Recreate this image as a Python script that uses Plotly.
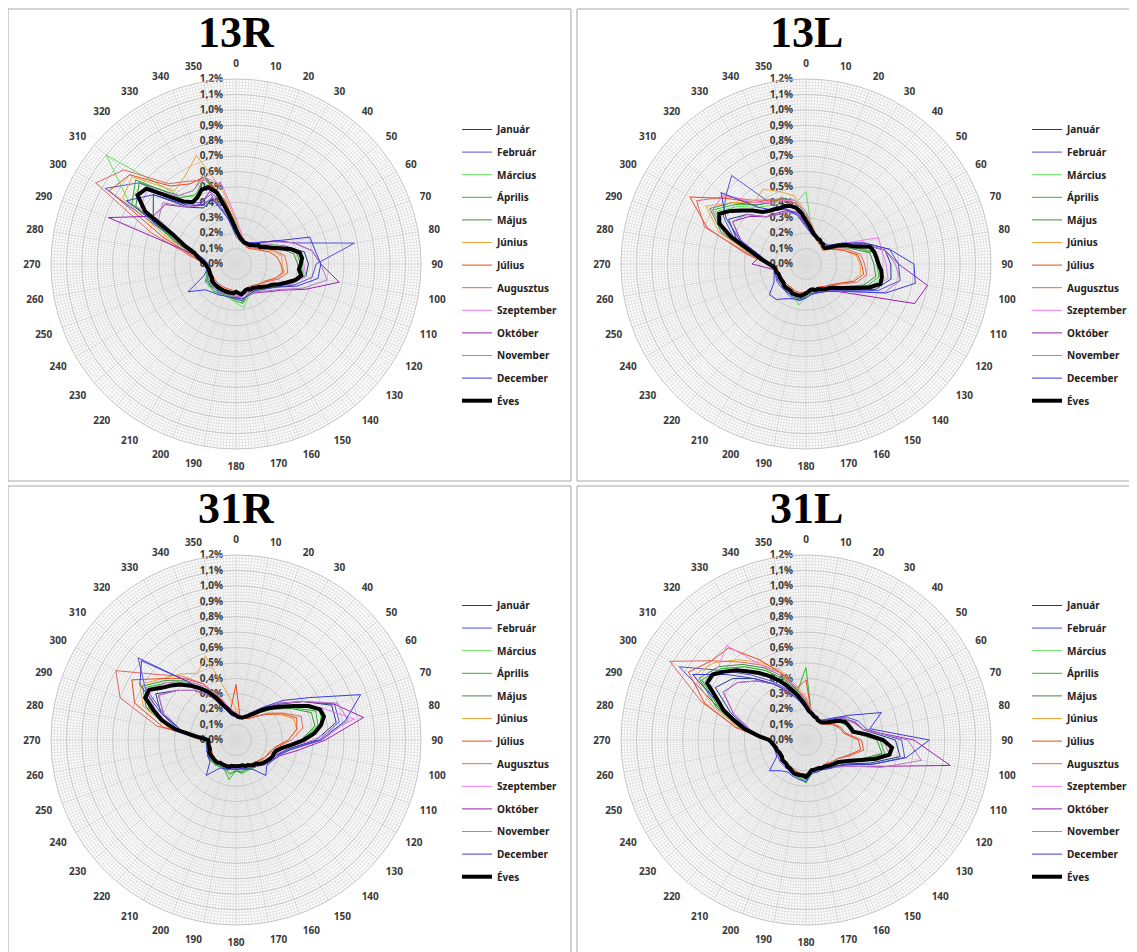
import plotly.graph_objects as go

W, H = 1137, 952

PANELS = ["13R", "13L", "31R", "31L"]
MONTHS = ["Január", "Február", "Március", "Április", "Május", "Június",
          "Július", "Augusztus", "Szeptember", "Október", "November", "December"]
ANNUAL = "Éves"
THETA_10 = list(range(0, 360, 10))
THETA_5 = list(range(0, 360, 5))
ANGLE_TICKS = list(range(0, 360, 10))
ANGLE_LABELS = [str(a) for a in ANGLE_TICKS]
RADIAL_TICKS = [0.0, 0.1, 0.2, 0.3, 0.4, 0.5, 0.6, 0.7, 0.8, 0.9, 1.0, 1.1, 1.2]
RADIAL_LABELS = ["0,0%", "0,1%", "0,2%", "0,3%", "0,4%", "0,5%", "0,6%",
                 "0,7%", "0,8%", "0,9%", "1,0%", "1,1%", "1,2%"]

# ---------------- 13R ----------------
r13R_eves = [0.22, 0.19, 0.17, 0.16, 0.15, 0.15, 0.15, 0.15, 0.16, 0.17, 0.19, 0.19,
             0.22, 0.25, 0.30, 0.37, 0.42, 0.43, 0.42, 0.41, 0.43, 0.40, 0.35, 0.31,
             0.27, 0.25, 0.23, 0.21, 0.20, 0.19, 0.19, 0.18, 0.18, 0.19, 0.20, 0.19,
             0.18, 0.19, 0.19, 0.19, 0.19, 0.19, 0.19, 0.19, 0.19, 0.19, 0.19, 0.19,
             0.18, 0.18, 0.18, 0.18, 0.18, 0.19, 0.20, 0.22, 0.25, 0.28, 0.36, 0.45,
             0.68, 0.78, 0.76, 0.62, 0.53, 0.49, 0.50, 0.53, 0.53, 0.48, 0.36, 0.28]
r13R_jan = [0.20, 0.16, 0.14, 0.15, 0.17, 0.20, 0.25, 0.34, 0.45, 0.47, 0.46, 0.38, 0.28, 0.24, 0.21, 0.20, 0.20, 0.21,
            0.22, 0.21, 0.20, 0.21, 0.20, 0.21, 0.22, 0.19, 0.18, 0.19, 0.24, 0.35, 0.62, 0.70, 0.48, 0.42, 0.45, 0.33]
r13R_feb = [0.18, 0.15, 0.14, 0.15, 0.18, 0.22, 0.30, 0.40, 0.78, 0.52, 0.50, 0.40, 0.30, 0.25, 0.22, 0.21, 0.22, 0.24,
            0.23, 0.22, 0.21, 0.22, 0.21, 0.22, 0.23, 0.20, 0.19, 0.18, 0.22, 0.38, 0.98, 0.82, 0.52, 0.46, 0.48, 0.30]
r13R_mar = [0.22, 0.18, 0.14, 0.15, 0.16, 0.20, 0.26, 0.33, 0.42, 0.43, 0.45, 0.37, 0.28, 0.25, 0.23, 0.22, 0.23, 0.29,
            0.25, 0.23, 0.22, 0.23, 0.22, 0.23, 0.22, 0.20, 0.19, 0.20, 0.24, 0.38, 0.80, 1.10, 0.58, 0.50, 0.55, 0.38]
r13R_apr = [0.24, 0.17, 0.15, 0.16, 0.17, 0.20, 0.25, 0.32, 0.40, 0.42, 0.44, 0.38, 0.29, 0.25, 0.22, 0.21, 0.22, 0.26,
            0.24, 0.22, 0.21, 0.22, 0.23, 0.22, 0.21, 0.20, 0.19, 0.20, 0.26, 0.40, 0.78, 0.85, 0.56, 0.52, 0.60, 0.40]
r13R_maj = [0.26, 0.18, 0.15, 0.15, 0.16, 0.19, 0.23, 0.30, 0.38, 0.40, 0.42, 0.36, 0.28, 0.24, 0.21, 0.20, 0.21, 0.25,
            0.22, 0.21, 0.20, 0.21, 0.20, 0.21, 0.20, 0.19, 0.18, 0.19, 0.25, 0.42, 0.75, 0.82, 0.58, 0.55, 0.62, 0.42]
r13R_jun = [0.28, 0.20, 0.16, 0.14, 0.14, 0.16, 0.20, 0.25, 0.30, 0.30, 0.32, 0.28, 0.23, 0.21, 0.19, 0.18, 0.19, 0.21,
            0.19, 0.18, 0.18, 0.18, 0.18, 0.18, 0.17, 0.17, 0.17, 0.19, 0.27, 0.45, 0.85, 0.88, 0.62, 0.66, 0.75, 0.48]
r13R_jul = [0.24, 0.18, 0.15, 0.13, 0.13, 0.15, 0.18, 0.23, 0.27, 0.29, 0.31, 0.27, 0.22, 0.20, 0.18, 0.17, 0.18, 0.20,
            0.18, 0.17, 0.17, 0.17, 0.17, 0.17, 0.17, 0.17, 0.17, 0.19, 0.28, 0.50, 0.95, 0.90, 0.66, 0.60, 0.60, 0.42]
r13R_aug = [0.22, 0.17, 0.14, 0.13, 0.14, 0.16, 0.20, 0.26, 0.32, 0.33, 0.34, 0.29, 0.23, 0.20, 0.18, 0.17, 0.18, 0.20,
            0.18, 0.18, 0.18, 0.18, 0.18, 0.18, 0.17, 0.17, 0.17, 0.20, 0.30, 0.58, 1.05, 0.95, 0.68, 0.62, 0.58, 0.40]
r13R_szep = [0.30, 0.20, 0.16, 0.15, 0.16, 0.19, 0.25, 0.33, 0.42, 0.44, 0.46, 0.38, 0.28, 0.23, 0.21, 0.20, 0.20, 0.22,
             0.20, 0.19, 0.19, 0.19, 0.19, 0.19, 0.18, 0.18, 0.18, 0.19, 0.24, 0.38, 0.72, 0.75, 0.58, 0.55, 0.60, 0.52]
r13R_okt = [0.24, 0.18, 0.16, 0.16, 0.18, 0.22, 0.30, 0.40, 0.50, 0.55, 0.68, 0.48, 0.34, 0.28, 0.24, 0.22, 0.22, 0.23,
            0.21, 0.20, 0.20, 0.20, 0.20, 0.20, 0.19, 0.18, 0.18, 0.19, 0.22, 0.88, 0.62, 0.60, 0.48, 0.45, 0.50, 0.38]
r13R_nov = [0.22, 0.17, 0.15, 0.16, 0.18, 0.22, 0.29, 0.40, 0.50, 0.55, 0.60, 0.46, 0.33, 0.27, 0.23, 0.22, 0.22, 0.23,
            0.21, 0.21, 0.20, 0.21, 0.21, 0.21, 0.20, 0.19, 0.18, 0.19, 0.22, 0.33, 0.58, 0.62, 0.48, 0.44, 0.46, 0.32]
r13R_dec = [0.20, 0.16, 0.15, 0.16, 0.18, 0.22, 0.30, 0.51, 0.52, 0.55, 0.54, 0.42, 0.30, 0.25, 0.22, 0.21, 0.22, 0.23,
            0.22, 0.22, 0.22, 0.23, 0.24, 0.26, 0.36, 0.22, 0.19, 0.18, 0.22, 0.36, 0.82, 0.70, 0.50, 0.44, 0.45, 0.30]

# ---------------- 13L ----------------
r13L_eves = [0.28, 0.25, 0.22, 0.20, 0.19, 0.18, 0.18, 0.17, 0.17, 0.16, 0.16, 0.19,
             0.24, 0.29, 0.33, 0.43, 0.45, 0.46, 0.47, 0.49, 0.50, 0.50, 0.44, 0.37,
             0.31, 0.27, 0.24, 0.22, 0.21, 0.20, 0.19, 0.18, 0.18, 0.17, 0.17, 0.18,
             0.19, 0.20, 0.21, 0.21, 0.21, 0.21, 0.20, 0.20, 0.20, 0.20, 0.19, 0.19,
             0.19, 0.19, 0.19, 0.20, 0.20, 0.21, 0.24, 0.28, 0.33, 0.40, 0.52, 0.62,
             0.65, 0.60, 0.54, 0.49, 0.44, 0.42, 0.41, 0.40, 0.40, 0.39, 0.37, 0.33]
r13L_jan = [0.26, 0.20, 0.18, 0.18, 0.18, 0.18, 0.26, 0.38, 0.52, 0.55, 0.56, 0.48, 0.34, 0.26, 0.22, 0.20, 0.20, 0.19,
            0.21, 0.23, 0.23, 0.22, 0.22, 0.21, 0.21, 0.21, 0.21, 0.24, 0.30, 0.48, 0.58, 0.50, 0.40, 0.37, 0.36, 0.33]
r13L_feb = [0.25, 0.20, 0.18, 0.18, 0.18, 0.19, 0.27, 0.40, 0.55, 0.60, 0.62, 0.50, 0.35, 0.27, 0.23, 0.21, 0.20, 0.20,
            0.22, 0.24, 0.24, 0.23, 0.22, 0.22, 0.22, 0.21, 0.21, 0.25, 0.32, 0.50, 0.62, 0.68, 0.75, 0.45, 0.38, 0.33]
r13L_mar = [0.47, 0.22, 0.19, 0.18, 0.17, 0.16, 0.24, 0.33, 0.45, 0.47, 0.50, 0.44, 0.31, 0.25, 0.22, 0.20, 0.19, 0.18,
            0.22, 0.27, 0.23, 0.21, 0.21, 0.20, 0.20, 0.20, 0.20, 0.24, 0.34, 0.55, 0.68, 0.58, 0.48, 0.44, 0.45, 0.40]
r13L_apr = [0.30, 0.23, 0.19, 0.18, 0.17, 0.16, 0.23, 0.32, 0.44, 0.46, 0.48, 0.42, 0.30, 0.24, 0.22, 0.20, 0.19, 0.18,
            0.21, 0.24, 0.22, 0.21, 0.21, 0.20, 0.20, 0.19, 0.20, 0.25, 0.35, 0.56, 0.70, 0.60, 0.50, 0.46, 0.46, 0.40]
r13L_maj = [0.32, 0.24, 0.20, 0.18, 0.17, 0.16, 0.22, 0.30, 0.42, 0.44, 0.46, 0.40, 0.29, 0.23, 0.21, 0.19, 0.18, 0.18,
            0.20, 0.22, 0.21, 0.20, 0.20, 0.19, 0.19, 0.19, 0.20, 0.25, 0.36, 0.58, 0.72, 0.62, 0.50, 0.46, 0.45, 0.42]
r13L_jun = [0.34, 0.25, 0.20, 0.17, 0.16, 0.15, 0.20, 0.26, 0.33, 0.35, 0.36, 0.32, 0.25, 0.21, 0.19, 0.18, 0.17, 0.17,
            0.18, 0.19, 0.19, 0.19, 0.18, 0.18, 0.18, 0.18, 0.19, 0.24, 0.36, 0.60, 0.75, 0.62, 0.52, 0.56, 0.50, 0.45]
r13L_jul = [0.30, 0.22, 0.18, 0.16, 0.15, 0.14, 0.19, 0.26, 0.34, 0.36, 0.38, 0.33, 0.25, 0.21, 0.19, 0.17, 0.17, 0.17,
            0.18, 0.19, 0.19, 0.18, 0.18, 0.18, 0.18, 0.18, 0.19, 0.25, 0.40, 0.68, 0.87, 0.66, 0.52, 0.48, 0.44, 0.40]
r13L_aug = [0.29, 0.22, 0.18, 0.16, 0.15, 0.15, 0.20, 0.28, 0.36, 0.38, 0.40, 0.35, 0.26, 0.22, 0.19, 0.18, 0.17, 0.17,
            0.18, 0.19, 0.19, 0.19, 0.18, 0.18, 0.18, 0.18, 0.19, 0.25, 0.38, 0.70, 0.82, 0.68, 0.54, 0.48, 0.45, 0.40]
r13L_szep = [0.34, 0.24, 0.20, 0.18, 0.17, 0.17, 0.26, 0.50, 0.50, 0.52, 0.54, 0.46, 0.32, 0.25, 0.21, 0.19, 0.18, 0.18,
             0.19, 0.20, 0.20, 0.20, 0.19, 0.19, 0.19, 0.19, 0.20, 0.24, 0.34, 0.56, 0.70, 0.70, 0.52, 0.46, 0.44, 0.42]
r13L_okt = [0.27, 0.21, 0.18, 0.18, 0.18, 0.18, 0.26, 0.38, 0.52, 0.60, 0.80, 0.75, 0.40, 0.28, 0.23, 0.20, 0.19, 0.18,
            0.20, 0.21, 0.21, 0.21, 0.21, 0.20, 0.20, 0.20, 0.21, 0.35, 0.30, 0.45, 0.55, 0.48, 0.40, 0.38, 0.37, 0.34]
r13L_nov = [0.26, 0.21, 0.18, 0.18, 0.18, 0.18, 0.26, 0.38, 0.52, 0.58, 0.62, 0.54, 0.36, 0.27, 0.22, 0.20, 0.19, 0.18,
            0.20, 0.21, 0.21, 0.21, 0.20, 0.20, 0.20, 0.20, 0.21, 0.24, 0.30, 0.46, 0.55, 0.50, 0.40, 0.37, 0.36, 0.33]
r13L_dec = [0.24, 0.20, 0.18, 0.18, 0.18, 0.18, 0.27, 0.40, 0.55, 0.70, 0.72, 0.55, 0.36, 0.27, 0.23, 0.21, 0.20, 0.20,
            0.22, 0.24, 0.24, 0.26, 0.30, 0.31, 0.24, 0.22, 0.21, 0.23, 0.30, 0.46, 0.60, 0.72, 0.48, 0.40, 0.38, 0.32]

# ---------------- 31R ----------------
r31R_eves = [0.16, 0.15, 0.15, 0.15, 0.16, 0.17, 0.19, 0.21, 0.25, 0.29, 0.33, 0.38,
             0.44, 0.52, 0.58, 0.59, 0.56, 0.51, 0.44, 0.36, 0.30, 0.27, 0.26, 0.26,
             0.25, 0.24, 0.23, 0.22, 0.20, 0.20, 0.19, 0.18, 0.18, 0.17, 0.17, 0.17,
             0.17, 0.17, 0.17, 0.18, 0.18, 0.18, 0.18, 0.18, 0.19, 0.19, 0.19, 0.19,
             0.19, 0.19, 0.18, 0.18, 0.18, 0.18, 0.18, 0.26, 0.40, 0.50, 0.57, 0.65,
             0.65, 0.59, 0.55, 0.51, 0.46, 0.41, 0.36, 0.30, 0.24, 0.21, 0.18, 0.17]
r31R_jan = [0.15, 0.15, 0.16, 0.20, 0.27, 0.36, 0.50, 0.66, 0.66, 0.52, 0.34, 0.28, 0.26, 0.24, 0.22, 0.21, 0.20, 0.19,
            0.19, 0.19, 0.20, 0.20, 0.21, 0.21, 0.21, 0.20, 0.19, 0.18, 0.38, 0.52, 0.60, 0.50, 0.42, 0.33, 0.22, 0.17]
r31R_feb = [0.15, 0.14, 0.16, 0.20, 0.27, 0.37, 0.50, 0.68, 0.68, 0.54, 0.35, 0.29, 0.27, 0.25, 0.22, 0.21, 0.20, 0.19,
            0.19, 0.19, 0.20, 0.20, 0.21, 0.21, 0.21, 0.20, 0.19, 0.18, 0.36, 0.50, 0.68, 0.83, 0.50, 0.35, 0.22, 0.17]
r31R_mar = [0.16, 0.15, 0.16, 0.19, 0.25, 0.33, 0.44, 0.58, 0.56, 0.45, 0.31, 0.27, 0.26, 0.24, 0.22, 0.21, 0.21, 0.22,
            0.20, 0.23, 0.21, 0.20, 0.21, 0.21, 0.20, 0.19, 0.19, 0.19, 0.42, 0.58, 0.66, 0.58, 0.48, 0.38, 0.26, 0.19]
r31R_apr = [0.17, 0.15, 0.16, 0.19, 0.24, 0.32, 0.42, 0.55, 0.54, 0.43, 0.30, 0.27, 0.26, 0.24, 0.22, 0.21, 0.21, 0.22,
            0.20, 0.26, 0.21, 0.20, 0.21, 0.21, 0.20, 0.19, 0.19, 0.19, 0.43, 0.60, 0.68, 0.58, 0.48, 0.38, 0.26, 0.19]
r31R_maj = [0.17, 0.15, 0.16, 0.18, 0.23, 0.31, 0.41, 0.52, 0.52, 0.42, 0.30, 0.27, 0.25, 0.23, 0.21, 0.20, 0.20, 0.21,
            0.20, 0.22, 0.20, 0.19, 0.20, 0.20, 0.19, 0.18, 0.18, 0.19, 0.44, 0.62, 0.70, 0.60, 0.50, 0.40, 0.28, 0.19]
r31R_jun = [0.20, 0.15, 0.15, 0.17, 0.20, 0.26, 0.33, 0.40, 0.40, 0.34, 0.26, 0.23, 0.22, 0.21, 0.19, 0.18, 0.18, 0.17,
            0.17, 0.17, 0.17, 0.18, 0.18, 0.18, 0.18, 0.17, 0.17, 0.18, 0.44, 0.64, 0.72, 0.62, 0.56, 0.50, 0.58, 0.30]
r31R_jul = [0.36, 0.15, 0.15, 0.16, 0.20, 0.26, 0.34, 0.42, 0.40, 0.34, 0.26, 0.23, 0.22, 0.20, 0.19, 0.18, 0.18, 0.17,
            0.17, 0.17, 0.17, 0.18, 0.18, 0.18, 0.18, 0.17, 0.17, 0.18, 0.48, 0.70, 0.78, 0.62, 0.52, 0.42, 0.28, 0.20]
r31R_aug = [0.18, 0.15, 0.15, 0.16, 0.20, 0.27, 0.35, 0.45, 0.44, 0.36, 0.27, 0.24, 0.22, 0.21, 0.19, 0.18, 0.18, 0.17,
            0.17, 0.17, 0.17, 0.18, 0.18, 0.18, 0.18, 0.17, 0.17, 0.18, 0.52, 0.80, 0.90, 0.66, 0.54, 0.42, 0.28, 0.20]
r31R_szep = [0.18, 0.15, 0.16, 0.19, 0.25, 0.33, 0.45, 0.60, 0.78, 0.50, 0.32, 0.27, 0.25, 0.23, 0.21, 0.20, 0.19, 0.18,
             0.18, 0.18, 0.18, 0.19, 0.19, 0.19, 0.19, 0.18, 0.18, 0.18, 0.40, 0.56, 0.65, 0.58, 0.50, 0.40, 0.30, 0.20]
r31R_okt = [0.16, 0.15, 0.16, 0.20, 0.27, 0.37, 0.50, 0.68, 0.84, 0.58, 0.40, 0.30, 0.27, 0.24, 0.22, 0.20, 0.19, 0.18,
            0.18, 0.18, 0.19, 0.19, 0.20, 0.20, 0.20, 0.19, 0.18, 0.18, 0.36, 0.50, 0.58, 0.50, 0.42, 0.33, 0.22, 0.17]
r31R_nov = [0.16, 0.15, 0.16, 0.20, 0.27, 0.37, 0.50, 0.70, 0.74, 0.56, 0.36, 0.29, 0.27, 0.24, 0.22, 0.20, 0.19, 0.18,
            0.18, 0.18, 0.19, 0.19, 0.20, 0.20, 0.20, 0.19, 0.18, 0.18, 0.36, 0.50, 0.58, 0.50, 0.42, 0.33, 0.22, 0.17]
r31R_dec = [0.15, 0.14, 0.16, 0.21, 0.28, 0.40, 0.55, 0.86, 0.72, 0.55, 0.36, 0.29, 0.27, 0.26, 0.30, 0.22, 0.20, 0.19,
            0.19, 0.19, 0.20, 0.21, 0.30, 0.22, 0.21, 0.20, 0.19, 0.18, 0.36, 0.52, 0.72, 0.80, 0.50, 0.34, 0.22, 0.16]

# ---------------- 31L ----------------
r31L_eves = [0.22, 0.19, 0.18, 0.17, 0.16, 0.16, 0.15, 0.15, 0.15, 0.16, 0.18, 0.21,
             0.25, 0.28, 0.29, 0.30, 0.31, 0.40, 0.50, 0.56, 0.55, 0.47, 0.38, 0.32,
             0.28, 0.25, 0.24, 0.23, 0.22, 0.21, 0.21, 0.20, 0.20, 0.20, 0.20, 0.22,
             0.24, 0.23, 0.23, 0.23, 0.23, 0.22, 0.21, 0.21, 0.20, 0.20, 0.20, 0.19,
             0.19, 0.19, 0.20, 0.20, 0.21, 0.22, 0.24, 0.31, 0.40, 0.48, 0.57, 0.64,
             0.74, 0.74, 0.69, 0.64, 0.58, 0.53, 0.48, 0.43, 0.38, 0.33, 0.29, 0.25]
r31L_jan = [0.21, 0.17, 0.16, 0.15, 0.16, 0.20, 0.28, 0.34, 0.38, 0.58, 0.62, 0.44, 0.31, 0.26, 0.24, 0.22, 0.21, 0.21,
            0.25, 0.24, 0.24, 0.22, 0.21, 0.21, 0.20, 0.21, 0.22, 0.25, 0.38, 0.52, 0.68, 0.62, 0.52, 0.42, 0.34, 0.27]
r31L_feb = [0.20, 0.17, 0.16, 0.15, 0.16, 0.21, 0.30, 0.36, 0.40, 0.62, 0.65, 0.46, 0.32, 0.26, 0.24, 0.22, 0.21, 0.21,
            0.26, 0.25, 0.24, 0.23, 0.22, 0.22, 0.21, 0.21, 0.22, 0.25, 0.40, 0.60, 0.95, 0.70, 0.55, 0.44, 0.35, 0.27]
r31L_mar = [0.24, 0.19, 0.16, 0.15, 0.15, 0.18, 0.25, 0.29, 0.31, 0.50, 0.55, 0.40, 0.29, 0.25, 0.23, 0.22, 0.21, 0.21,
            0.26, 0.25, 0.24, 0.22, 0.21, 0.21, 0.20, 0.21, 0.22, 0.25, 0.42, 0.60, 0.78, 0.72, 0.62, 0.52, 0.42, 0.32]
r31L_apr = [0.47, 0.19, 0.16, 0.15, 0.15, 0.18, 0.24, 0.29, 0.31, 0.48, 0.52, 0.38, 0.29, 0.25, 0.23, 0.22, 0.22, 0.22,
            0.28, 0.25, 0.24, 0.22, 0.21, 0.21, 0.20, 0.21, 0.22, 0.25, 0.42, 0.60, 0.78, 0.72, 0.62, 0.52, 0.42, 0.32]
r31L_maj = [0.26, 0.19, 0.16, 0.15, 0.15, 0.18, 0.24, 0.28, 0.30, 0.46, 0.50, 0.37, 0.28, 0.24, 0.22, 0.21, 0.21, 0.21,
            0.25, 0.24, 0.23, 0.22, 0.21, 0.20, 0.20, 0.20, 0.21, 0.25, 0.43, 0.62, 0.80, 0.74, 0.64, 0.54, 0.44, 0.33]
r31L_jun = [0.28, 0.20, 0.16, 0.14, 0.14, 0.16, 0.21, 0.24, 0.26, 0.36, 0.38, 0.30, 0.24, 0.22, 0.21, 0.20, 0.20, 0.20,
            0.22, 0.22, 0.21, 0.20, 0.19, 0.19, 0.19, 0.19, 0.20, 0.24, 0.44, 0.65, 0.84, 0.78, 0.68, 0.58, 0.48, 0.36]
r31L_jul = [0.39, 0.19, 0.16, 0.14, 0.14, 0.16, 0.20, 0.23, 0.25, 0.34, 0.36, 0.29, 0.24, 0.22, 0.20, 0.20, 0.20, 0.20,
            0.22, 0.22, 0.21, 0.20, 0.19, 0.19, 0.19, 0.19, 0.20, 0.24, 0.46, 0.70, 0.88, 0.80, 0.78, 0.60, 0.46, 0.34]
r31L_aug = [0.25, 0.19, 0.16, 0.14, 0.14, 0.16, 0.21, 0.24, 0.26, 0.36, 0.38, 0.30, 0.24, 0.22, 0.20, 0.20, 0.20, 0.20,
            0.22, 0.22, 0.21, 0.20, 0.19, 0.19, 0.19, 0.19, 0.20, 0.24, 0.46, 0.72, 1.02, 0.80, 0.66, 0.56, 0.46, 0.34]
r31L_szep = [0.27, 0.20, 0.17, 0.15, 0.15, 0.18, 0.24, 0.29, 0.32, 0.50, 0.55, 0.40, 0.29, 0.24, 0.22, 0.21, 0.21, 0.21,
             0.24, 0.23, 0.22, 0.21, 0.20, 0.20, 0.19, 0.20, 0.21, 0.24, 0.40, 0.58, 0.76, 0.74, 0.80, 0.55, 0.44, 0.34]
r31L_okt = [0.22, 0.18, 0.16, 0.15, 0.16, 0.20, 0.28, 0.33, 0.38, 0.70, 0.95, 0.50, 0.34, 0.27, 0.24, 0.22, 0.21, 0.21,
            0.24, 0.24, 0.23, 0.22, 0.21, 0.21, 0.20, 0.21, 0.22, 0.25, 0.37, 0.50, 0.62, 0.58, 0.50, 0.42, 0.34, 0.27]
r31L_nov = [0.21, 0.18, 0.16, 0.15, 0.16, 0.20, 0.28, 0.34, 0.38, 0.66, 0.76, 0.52, 0.34, 0.27, 0.24, 0.22, 0.21, 0.21,
            0.24, 0.24, 0.23, 0.22, 0.21, 0.21, 0.20, 0.21, 0.22, 0.25, 0.36, 0.50, 0.62, 0.58, 0.50, 0.42, 0.34, 0.27]
r31L_dec = [0.20, 0.17, 0.16, 0.15, 0.17, 0.22, 0.32, 0.52, 0.42, 0.80, 0.66, 0.46, 0.32, 0.26, 0.24, 0.22, 0.22, 0.22,
            0.27, 0.26, 0.25, 0.24, 0.26, 0.31, 0.22, 0.21, 0.22, 0.25, 0.38, 0.56, 0.85, 0.66, 0.52, 0.42, 0.33, 0.26]

MONTH_DATA = {
    "13R": [r13R_jan, r13R_feb, r13R_mar, r13R_apr, r13R_maj, r13R_jun,
            r13R_jul, r13R_aug, r13R_szep, r13R_okt, r13R_nov, r13R_dec],
    "13L": [r13L_jan, r13L_feb, r13L_mar, r13L_apr, r13L_maj, r13L_jun,
            r13L_jul, r13L_aug, r13L_szep, r13L_okt, r13L_nov, r13L_dec],
    "31R": [r31R_jan, r31R_feb, r31R_mar, r31R_apr, r31R_maj, r31R_jun,
            r31R_jul, r31R_aug, r31R_szep, r31R_okt, r31R_nov, r31R_dec],
    "31L": [r31L_jan, r31L_feb, r31L_mar, r31L_apr, r31L_maj, r31L_jun,
            r31L_jul, r31L_aug, r31L_szep, r31L_okt, r31L_nov, r31L_dec],
}
ANNUAL_DATA = {"13R": r13R_eves, "13L": r13L_eves, "31R": r31R_eves, "31L": r31L_eves}

MONTH_COLORS = ["#1f3b8c", "#5151d8", "#5ee05e", "#2fb52f", "#3a8f3a", "#f2a43a",
                "#e84a1a", "#e06666", "#f07af0", "#9a1fb3", "#b57ac4", "#3a3ae0"]

LABEL_FONT = dict(family="Noto Sans", size=10, color="#3a3a3a", weight="bold")
R_PX = 185
OFF = 8  # the page body margin shifts the figure by 8 px


def closed(vals):
    return list(vals) + [vals[0]]


fig = go.Figure()
layout = dict(width=W, height=H, margin=dict(l=0, r=0, t=0, b=0),
              paper_bgcolor="white", plot_bgcolor="white", showlegend=True,
              annotations=[], shapes=[])

for k, name in enumerate(PANELS):
    col, row = k % 2, k // 2
    cx = 236 - OFF + 570 * col
    cy = 264 - OFF + 476 * row
    dom_x = [(cx - R_PX) / W, (cx + R_PX) / W]
    dom_y = [1 - (cy + R_PX) / H, 1 - (cy - R_PX) / H]
    grid_id = "polar" if k == 0 else f"polar{k + 1}"
    data_id = f"polar{k + 5}"
    leg_id = "legend" if k == 0 else f"legend{k + 1}"

    # fine background grid
    layout[grid_id] = dict(
        domain=dict(x=dom_x, y=dom_y), bgcolor="white",
        angularaxis=dict(rotation=90, direction="clockwise", tickmode="array",
                         tickvals=list(range(0, 360, 1)), showticklabels=False,
                         ticks="", gridcolor="#e3e3e3", gridwidth=1, showline=False),
        radialaxis=dict(range=[0, 1.2], tickmode="array",
                        tickvals=[i * 0.02 for i in range(61)], showticklabels=False,
                        ticks="", gridcolor="#e3e3e3", gridwidth=1, showline=False),
    )
    fig.add_trace(go.Scatterpolar(r=[None], theta=[None], mode="lines", subplot=grid_id,
                                  showlegend=False, hoverinfo="skip"))

    # main polar with labels
    layout[data_id] = dict(
        domain=dict(x=dom_x, y=dom_y), bgcolor="rgba(0,0,0,0)",
        angularaxis=dict(rotation=90, direction="clockwise", tickmode="array",
                         tickvals=ANGLE_TICKS, ticktext=ANGLE_LABELS,
                         ticks="outside", ticklen=8, tickcolor="rgba(0,0,0,0)",
                         tickfont=LABEL_FONT, gridcolor="#dadada", gridwidth=1,
                         showline=True, linecolor="#c4c4c4", linewidth=1),
        radialaxis=dict(range=[0, 1.2], tickmode="array", tickvals=RADIAL_TICKS,
                        ticktext=RADIAL_LABELS, tickfont=LABEL_FONT, angle=90,
                        tickangle=90, side="counterclockwise",
                        ticks="outside", ticklen=9, tickcolor="rgba(0,0,0,0)",
                        gridcolor="#c8c8c8", gridwidth=1, showline=False,
                        layer="below traces"),
    )

    for m, mname in enumerate(MONTHS):
        vals = MONTH_DATA[name][m]
        fig.add_trace(go.Scatterpolar(
            r=closed(vals), theta=closed(THETA_10), mode="lines", name=mname,
            line=dict(color=MONTH_COLORS[m], width=1), subplot=data_id,
            legend=leg_id, legendgroup=f"{name}-{m}"))
    fig.add_trace(go.Scatterpolar(
        r=closed(ANNUAL_DATA[name]), theta=closed(THETA_5), mode="lines", name=ANNUAL,
        line=dict(color="black", width=4), subplot=data_id,
        legend=leg_id, legendgroup=f"{name}-eves"))

    layout[leg_id] = dict(
        x=(449 + 570 * col) / W, y=1 - (107 + 476 * row) / H,
        xanchor="left", yanchor="top", bgcolor="rgba(0,0,0,0)",
        font=dict(family="Noto Sans", size=10, color="#222222", weight="bold"),
        traceorder="grouped", tracegroupgap=3.6, borderwidth=0,
    )

    layout["annotations"].append(dict(
        text=f"<b>{name}</b>", x=cx / W, y=1 - (24 + 476 * row) / H,
        xref="paper", yref="paper", showarrow=False, xanchor="center", yanchor="middle",
        font=dict(family="Liberation Serif", size=44, color="black")))

    x0 = 7 - OFF + 570 * col
    x1 = 571 - OFF if col == 0 else 1140
    y0 = 9 - OFF if row == 0 else 486 - OFF
    y1 = 481 - OFF if row == 0 else 960
    layout["shapes"].append(dict(
        type="rect", xref="paper", yref="paper",
        x0=max(x0, 0) / W, x1=x1 / W, y0=1 - max(y0, 1) / H, y1=1 - y1 / H,
        line=dict(color="#a6a6a6", width=1), fillcolor="rgba(0,0,0,0)", layer="above"))

fig.update_layout(**layout)
fig.write_html("out.html")
